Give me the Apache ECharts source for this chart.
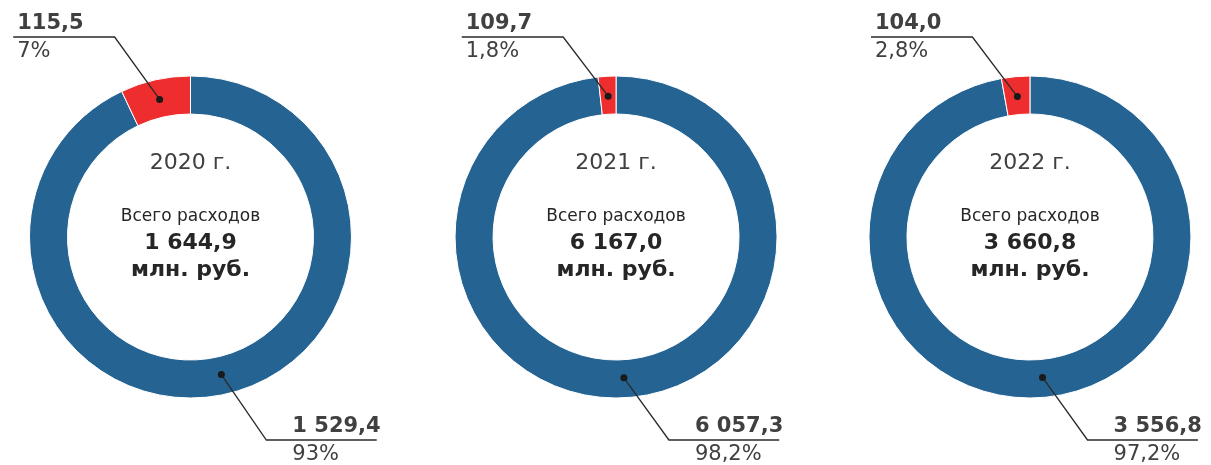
<!DOCTYPE html>
<html>
<head>
<meta charset="utf-8">
<script src="https://cdn.jsdelivr.net/npm/echarts@6/dist/echarts.min.js"></script>
<style>
html, body { margin: 0; padding: 0; background: #fff; }
#main { width: 1211px; height: 465px; }
</style>
</head>
<body>
<div id="main"></div>
<script>
// данные по годам
var years = ['2020 г.', '2021 г.', '2022 г.'];
var totals = [1644.9, 6167.0, 3660.8];
var mainVals = [1529.4, 6057.3, 3556.8];   // синий сектор
var otherVals = [115.5, 109.7, 104.0];     // красный сектор
var mainPct = ['93%', '98,2%', '97,2%'];
var otherPct = ['7%', '1,8%', '2,8%'];

var FONT = 'DejaVu Sans';
var BLUE = '#246392';
var RED = '#ee2e2e';

function fmt(v) {
  var s = v.toFixed(1).split('.');
  return s[0].replace(/\B(?=(\d{3})+(?!\d))/g, ' ') + ',' + s[1];
}

var chart = echarts.init(document.getElementById('main'));
var cx = ['15.73%', '50.87%', '85.05%'];
var cy = 237;
var rIn = 123, rOut = 161;

// точка на кольце по исходной выноске пирога
function ringPoint(p) {
  var ux = p[1][0] - p[0][0], uy = p[1][1] - p[0][1];
  var len = Math.sqrt(ux * ux + uy * uy) || 1;
  ux /= len; uy /= len;
  var back = 20;
  return {
    dot: [p[0][0] - ux * back, p[0][1] - uy * back],
    c: [p[0][0] - ux * rOut, p[0][1] - uy * rOut],
    sx: ux < 0 ? -1 : 1,
    sy: uy < 0 ? -1 : 1
  };
}

// точка -> излом -> горизонталь под подписью
function layoutLabel(params) {
  var p = params.labelLinePoints;
  if (!p) return {};
  var g = ringPoint(p);
  var ky = g.c[1] + (g.sy < 0 ? -200 : 203);
  var knee = [g.dot[0] + g.sx * 45, ky];
  var w = params.labelRect.width;
  var lx, end;
  if (g.sx < 0) {
    lx = knee[0] - 31 - w;
    end = lx - 4;
  } else {
    lx = knee[0] + 26;
    end = lx + w - 4;
  }
  return {
    x: lx,
    y: ky + 1,
    align: 'left',
    verticalAlign: 'middle',
    labelLinePoints: [g.dot, knee, [end, ky]]
  };
}

function layoutDot(params) {
  var p = params.labelLinePoints;
  if (!p) return {};
  var g = ringPoint(p);
  return { x: g.dot[0], y: g.dot[1], align: 'center', verticalAlign: 'middle' };
}

var series = [];
var titles = [];
years.forEach(function (y, i) {
  var vals = [mainVals[i], otherVals[i]];
  // само кольцо
  series.push({
    type: 'pie',
    center: [cx[i], cy],
    radius: [rIn, rOut],
    startAngle: 90,
    clockwise: true,
    silent: true,
    z: 1,
    itemStyle: { borderColor: '#fff', borderWidth: 1 },
    label: { show: false },
    labelLine: { show: false },
    data: [
      { value: vals[0], itemStyle: { color: BLUE } },
      { value: vals[1], itemStyle: { color: RED } }
    ]
  });
  // выноски с подписями (прозрачный слой поверх кольца)
  series.push({
    type: 'pie',
    center: [cx[i], cy],
    radius: [rIn, rOut],
    startAngle: 90,
    clockwise: true,
    avoidLabelOverlap: false,
    silent: true,
    z: 4,
    itemStyle: { color: 'transparent', borderWidth: 0 },
    label: {
      show: true,
      position: 'outside',
      fontFamily: FONT,
      formatter: function (p) {
        var pct = p.dataIndex === 0 ? mainPct[i] : otherPct[i];
        return '{v|' + fmt(p.value) + '}\n{p|' + pct + '}';
      },
      rich: {
        v: { fontFamily: FONT, fontSize: 21, fontWeight: 'bold', color: '#404040', lineHeight: 28 },
        p: { fontFamily: FONT, fontSize: 21, color: '#404040', lineHeight: 28 }
      }
    },
    labelLine: {
      show: true,
      length: 20,
      length2: 10,
      lineStyle: { color: '#2a2a2a', width: 1.3 }
    },
    labelLayout: layoutLabel,
    data: vals
  });
  // точки на кольце
  series.push({
    type: 'pie',
    center: [cx[i], cy],
    radius: [rIn, rOut],
    startAngle: 90,
    clockwise: true,
    avoidLabelOverlap: false,
    silent: true,
    z: 5,
    itemStyle: { color: 'transparent', borderWidth: 0 },
    label: {
      show: true,
      position: 'outside',
      formatter: '{d|}',
      rich: {
        d: { width: 7, height: 7, borderRadius: 3.5, backgroundColor: '#1a1a1a' }
      }
    },
    labelLine: { show: true, length: 20, length2: 10, lineStyle: { opacity: 0 } },
    labelLayout: layoutDot,
    data: vals
  });

  titles.push({
    text: y,
    left: cx[i],
    top: 151,
    textAlign: 'center',
    padding: 0,
    textStyle: { fontFamily: FONT, fontSize: 22, fontWeight: 'normal', color: '#404040', lineHeight: 24 }
  });
  titles.push({
    text: '{s|Всего расходов}\n{b|' + fmt(totals[i]) + '}\n{b|млн. руб.}',
    left: cx[i],
    top: 204,
    textAlign: 'center',
    padding: 0,
    textStyle: {
      fontFamily: FONT,
      rich: {
        s: { fontFamily: FONT, fontSize: 17, fontWeight: 'normal', color: '#262626', lineHeight: 26 },
        b: { fontFamily: FONT, fontSize: 22, fontWeight: 'bold', color: '#262626', lineHeight: 27 }
      }
    }
  });
});

chart.setOption({
  backgroundColor: '#fff',
  animation: false,
  title: titles,
  series: series
});
</script>
</body>
</html>
